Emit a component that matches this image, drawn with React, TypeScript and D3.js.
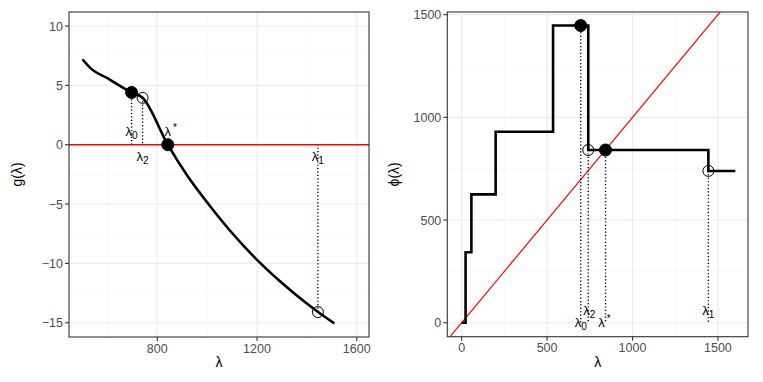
import React from "react";
import * as d3 from "d3";

// g(lambda) curve
const gLambda = [500, 532, 600, 697, 741, 842, 920, 1005, 1092, 1200, 1300, 1401, 1442, 1510];
const gValues = [7.2, 6.45, 5.6, 4.4, 3.95, 0, -2.6, -5, -7.25, -9.7, -11.65, -13.4, -14.05, -15.05];

// phi(lambda) step function (step-after)
const phiLambda = [0, 23, 57, 199, 535, 741, 1444, 1602];
const phiValues = [0, 343, 625, 930, 1447, 841, 739, 739];

// marked lambdas
const markNames = ["0", "2", "*", "1"];
const markLambda = [697, 741, 842, 1444];
const markG = [4.4, 3.95, 0, -14.1];
const markPhi = [1447, 841, 841, 739];
const markFilled = [true, false, true, false];

const gTicksY = [-15, -10, -5, 0, 5, 10];
const gMinorY = [-12.5, -7.5, -2.5, 2.5, 7.5];
const gTicksX = [800, 1200, 1600];
const gMinorX = [600, 1000, 1400];
const pTicksY = [0, 500, 1000, 1500];
const pMinorY = [250, 750, 1250];
const pTicksX = [0, 500, 1000, 1500];
const pMinorX = [250, 750, 1250];

const FONT = "'Liberation Sans', Arial, Helvetica, sans-serif";

function Label({ x, y, name }: { x: number; y: number; name: string }) {
  const sup = name === "*";
  return (
    <text x={x} y={y} textAnchor="middle" fontFamily={FONT} fontSize={13} fill="#000">
      <tspan>λ</tspan>
      <tspan dx={sup ? 2 : 0} dy={sup ? -5 : 3} fontSize={10}>{name}</tspan>
    </text>
  );
}

function Panel({
  xs, ys, ticksX, ticksY, minorX, minorY, fmtX, fmtY, title,
  children, clipId,
}: any) {
  const [x0, x1] = xs.range();
  const [y1, y0] = ys.range();
  return (
    <g>
      <defs>
        <clipPath id={clipId}>
          <rect x={x0} y={y0} width={x1 - x0} height={y1 - y0} />
        </clipPath>
      </defs>
      <rect x={x0} y={y0} width={x1 - x0} height={y1 - y0} fill="#fff" />
      {minorX.map((t: number) => (
        <line key={"mx" + t} x1={xs(t)} x2={xs(t)} y1={y0} y2={y1} stroke="#f4f4f4" strokeWidth={0.6} />
      ))}
      {minorY.map((t: number) => (
        <line key={"my" + t} y1={ys(t)} y2={ys(t)} x1={x0} x2={x1} stroke="#f4f4f4" strokeWidth={0.6} />
      ))}
      {ticksX.map((t: number) => (
        <line key={"gx" + t} x1={xs(t)} x2={xs(t)} y1={y0} y2={y1} stroke="#ebebeb" strokeWidth={1.1} />
      ))}
      {ticksY.map((t: number) => (
        <line key={"gy" + t} y1={ys(t)} y2={ys(t)} x1={x0} x2={x1} stroke="#ebebeb" strokeWidth={1.1} />
      ))}
      <g clipPath={`url(#${clipId})`}>{children}</g>
      <rect x={x0} y={y0} width={x1 - x0} height={y1 - y0} fill="none" stroke="#333" strokeWidth={1.1} />
      {ticksX.map((t: number) => (
        <g key={"tx" + t}>
          <line x1={xs(t)} x2={xs(t)} y1={y1} y2={y1 + 4} stroke="#333" strokeWidth={1.1} />
          <text x={xs(t)} y={y1 + 15.5} textAnchor="middle" fontFamily={FONT} fontSize={12.5} fill="#4d4d4d">{fmtX(t)}</text>
        </g>
      ))}
      {ticksY.map((t: number) => (
        <g key={"ty" + t}>
          <line x1={x0 - 4} x2={x0} y1={ys(t)} y2={ys(t)} stroke="#333" strokeWidth={1.1} />
          <text x={x0 - 6} y={ys(t) + 4.5} textAnchor="end" fontFamily={FONT} fontSize={12.5} fill="#4d4d4d">{fmtY(t)}</text>
        </g>
      ))}
      <text x={(x0 + x1) / 2} y={367} textAnchor="middle" fontFamily={FONT} fontSize={14} fill="#000">λ</text>
      <text transform={`translate(${title.x},${(y0 + y1) / 2}) rotate(-90)`} textAnchor="middle" fontFamily={FONT} fontSize={14} fill="#000">{title.text}</text>
    </g>
  );
}

export default function App() {
  const minus = (v: number) => (v < 0 ? "\u2212" + Math.abs(v) : String(v));

  // left panel scales
  const lx = d3.scaleLinear().domain([446, 1649]).range([69, 369]);
  const ly = d3.scaleLinear().domain([-16.2, 11.18]).range([337, 12]);
  // right panel scales
  const rx = d3.scaleLinear().domain([-84, 1676]).range([447.3, 748]);
  const ry = d3.scaleLinear().domain([-68, 1513]).range([336.7, 12]);

  const gLine = d3.line<number>()
    .x((d, i) => lx(gLambda[i]))
    .y((d) => ly(d))
    .curve(d3.curveMonotoneX)(gValues) as string;

  const phiLine = d3.line<number>()
    .x((d, i) => rx(phiLambda[i]))
    .y((d) => ry(d))
    .curve(d3.curveStepAfter)(phiValues) as string;

  const idLine = d3.line<number>().x((d) => rx(d)).y((d) => ry(d))([-100, 1700]) as string;

  const leftLabelY = [136, 161, 136, 161];
  const leftLabelDx = [0, 0, 3, 0];
  const rightLabelY = [326.5, 315, 326.5, 315];
  const rightLabelDx = [0, 1, -1, 0];

  const dotted = { stroke: "#000", strokeWidth: 1.4, strokeDasharray: "1.2 2.2" };

  return (
    <svg width={763} height={382} style={{ position: "absolute", left: 0, top: 0, background: "#fff" }}>
      <rect width={763} height={382} fill="#fff" />
      <Panel xs={lx} ys={ly} ticksX={gTicksX} ticksY={gTicksY} minorX={gMinorX} minorY={gMinorY}
        fmtX={String} fmtY={minus} title={{ x: 22, text: "g(λ)" }} clipId="clipL">
        <line x1={69} x2={369} y1={ly(0)} y2={ly(0)} stroke="#ff0000" strokeWidth={1.4} />
        <path d={gLine} fill="none" stroke="#000" strokeWidth={2.6} strokeLinejoin="round" />
        {markLambda.map((l, i) => (
          <line key={"dl" + i} x1={lx(l)} x2={lx(l)} y1={ly(markG[i])} y2={ly(0)} {...dotted} />
        ))}
        {markLambda.map((l, i) => (
          <circle key={"cl" + i} cx={lx(l)} cy={ly(markG[i])} r={markFilled[i] ? 6 : 5.5}
            fill={markFilled[i] ? "#000" : "none"} stroke="#000" strokeWidth={1} />
        ))}
      </Panel>
      {markLambda.map((l, i) => (
        <Label key={"ll" + i} x={lx(l) + leftLabelDx[i]} y={leftLabelY[i]} name={markNames[i]} />
      ))}

      <Panel xs={rx} ys={ry} ticksX={pTicksX} ticksY={pTicksY} minorX={pMinorX} minorY={pMinorY}
        fmtX={String} fmtY={String} title={{ x: 399, text: "ϕ(λ)" }} clipId="clipR">
        <path d={idLine} fill="none" stroke="#ff0000" strokeWidth={1.2} />
        <path d={phiLine} fill="none" stroke="#000" strokeWidth={2.6} />
        {markLambda.map((l, i) => (
          <line key={"dr" + i} x1={rx(l)} x2={rx(l)} y1={ry(markPhi[i])} y2={ry(0)} {...dotted} />
        ))}
        {markLambda.map((l, i) => (
          <circle key={"cr" + i} cx={rx(l)} cy={ry(markPhi[i])} r={markFilled[i] ? 6 : 5.5}
            fill={markFilled[i] ? "#000" : "none"} stroke="#000" strokeWidth={1} />
        ))}
      </Panel>
      {markLambda.map((l, i) => (
        <Label key={"lr" + i} x={rx(l) + rightLabelDx[i]} y={rightLabelY[i]} name={markNames[i]} />
      ))}
    </svg>
  );
}
